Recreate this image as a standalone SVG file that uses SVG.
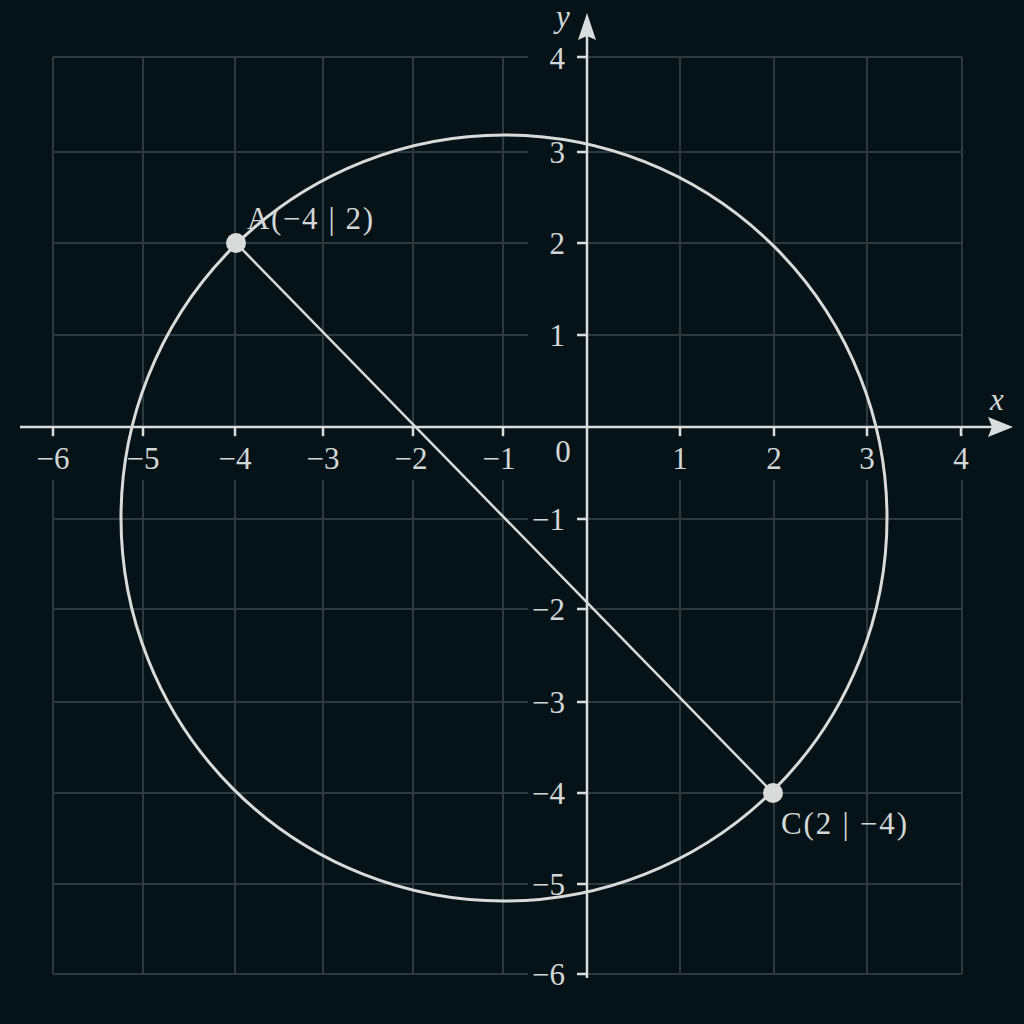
<svg xmlns="http://www.w3.org/2000/svg" width="1024" height="1024" viewBox="0 0 1024 1024">
<style>
.grid line{stroke:#2b3a3e;stroke-width:2}
.mask{fill:#051318}
.axis{stroke:#d9dddd;stroke-width:2.5;fill:none}
.tick{stroke:#d9dddd;stroke-width:2.5}
.lbl{font-family:"Liberation Serif","DejaVu Serif",serif;font-size:31px;fill:#d3d7d7}
.xl{text-anchor:middle}
.yl{text-anchor:end}
.it{font-style:italic}
.shape{stroke:#d9dbda;fill:none}
.pt{fill:#d9dbda}
</style>
<rect width="1024" height="1024" fill="#051318"/>
<g id="grid" class="grid">
<line x1="53" y1="57" x2="53" y2="974"/>
<line x1="143" y1="57" x2="143" y2="974"/>
<line x1="235" y1="57" x2="235" y2="974"/>
<line x1="323" y1="57" x2="323" y2="974"/>
<line x1="413" y1="57" x2="413" y2="974"/>
<line x1="503" y1="57" x2="503" y2="974"/>
<line x1="680" y1="57" x2="680" y2="974"/>
<line x1="774" y1="57" x2="774" y2="974"/>
<line x1="867" y1="57" x2="867" y2="974"/>
<line x1="962" y1="57" x2="962" y2="974"/>
<line x1="53" y1="57" x2="962" y2="57"/>
<line x1="53" y1="152" x2="962" y2="152"/>
<line x1="53" y1="243" x2="962" y2="243"/>
<line x1="53" y1="335" x2="962" y2="335"/>
<line x1="53" y1="519" x2="962" y2="519"/>
<line x1="53" y1="609" x2="962" y2="609"/>
<line x1="53" y1="702" x2="962" y2="702"/>
<line x1="53" y1="793" x2="962" y2="793"/>
<line x1="53" y1="884" x2="962" y2="884"/>
<line x1="53" y1="974" x2="962" y2="974"/>
</g>
<rect class="mask" x="40" y="437" width="935" height="43"/>
<rect class="mask" x="528" y="40" width="50" height="950"/>
<g id="axes">
<line class="axis" x1="20" y1="427" x2="992" y2="427"/>
<polygon points="1013,427 988,417 992,427 988,437" fill="#d9dddd"/>
<line class="axis" x1="587" y1="978" x2="587" y2="36"/>
<polygon points="587,13 578,40 587,36 596,40" fill="#d9dddd"/>
<g id="xticks">
<line class="tick" x1="53" y1="427" x2="53" y2="436"/>
<line class="tick" x1="143" y1="427" x2="143" y2="436"/>
<line class="tick" x1="235" y1="427" x2="235" y2="436"/>
<line class="tick" x1="323" y1="427" x2="323" y2="436"/>
<line class="tick" x1="413" y1="427" x2="413" y2="436"/>
<line class="tick" x1="503" y1="427" x2="503" y2="436"/>
<line class="tick" x1="680" y1="427" x2="680" y2="436"/>
<line class="tick" x1="774" y1="427" x2="774" y2="436"/>
<line class="tick" x1="867" y1="427" x2="867" y2="436"/>
<line class="tick" x1="961" y1="427" x2="961" y2="436"/>
</g>
<g id="yticks">
<line class="tick" x1="577" y1="57" x2="587" y2="57"/>
<line class="tick" x1="577" y1="152" x2="587" y2="152"/>
<line class="tick" x1="577" y1="243" x2="587" y2="243"/>
<line class="tick" x1="577" y1="335" x2="587" y2="335"/>
<line class="tick" x1="577" y1="519" x2="587" y2="519"/>
<line class="tick" x1="577" y1="609" x2="587" y2="609"/>
<line class="tick" x1="577" y1="702" x2="587" y2="702"/>
<line class="tick" x1="577" y1="793" x2="587" y2="793"/>
<line class="tick" x1="577" y1="884" x2="587" y2="884"/>
<line class="tick" x1="577" y1="974" x2="587" y2="974"/>
</g>
<g id="xlabels" class="lbl xl">
<text x="53" y="469">−6</text>
<text x="143" y="469">−5</text>
<text x="235" y="469">−4</text>
<text x="323" y="469">−3</text>
<text x="411" y="469">−2</text>
<text x="499" y="469">−1</text>
<text x="680" y="469">1</text>
<text x="774" y="469">2</text>
<text x="867" y="469">3</text>
<text x="961" y="469">4</text>
</g>
<text class="lbl xl" x="563" y="462">0</text>
<g id="ylabels" class="lbl yl">
<text x="565" y="69">4</text>
<text x="565" y="163">3</text>
<text x="565" y="254">2</text>
<text x="565" y="346">1</text>
<text x="565" y="530">−1</text>
<text x="565" y="620">−2</text>
<text x="565" y="713">−3</text>
<text x="565" y="804">−4</text>
<text x="565" y="895">−5</text>
<text x="565" y="985">−6</text>
</g>
<text class="lbl it" x="990" y="410">x</text>
<text class="lbl it" x="556" y="27">y</text>
</g>
<g id="circle"><circle class="shape" cx="504" cy="518" r="383" stroke-width="3"/></g>
<g id="connectors"><line class="shape" x1="236" y1="243" x2="773" y2="793" stroke-width="2.5"/></g>
<g id="pointA">
<circle class="pt" cx="236" cy="243" r="10"/>
<text class="lbl" x="247" y="229" textLength="126" lengthAdjust="spacing">A(−4 | 2)</text>
</g>
<g id="pointC">
<circle class="pt" cx="773" cy="793" r="10"/>
<text class="lbl" x="781" y="834" textLength="126" lengthAdjust="spacing">C(2 | −4)</text>
</g>
</svg>
